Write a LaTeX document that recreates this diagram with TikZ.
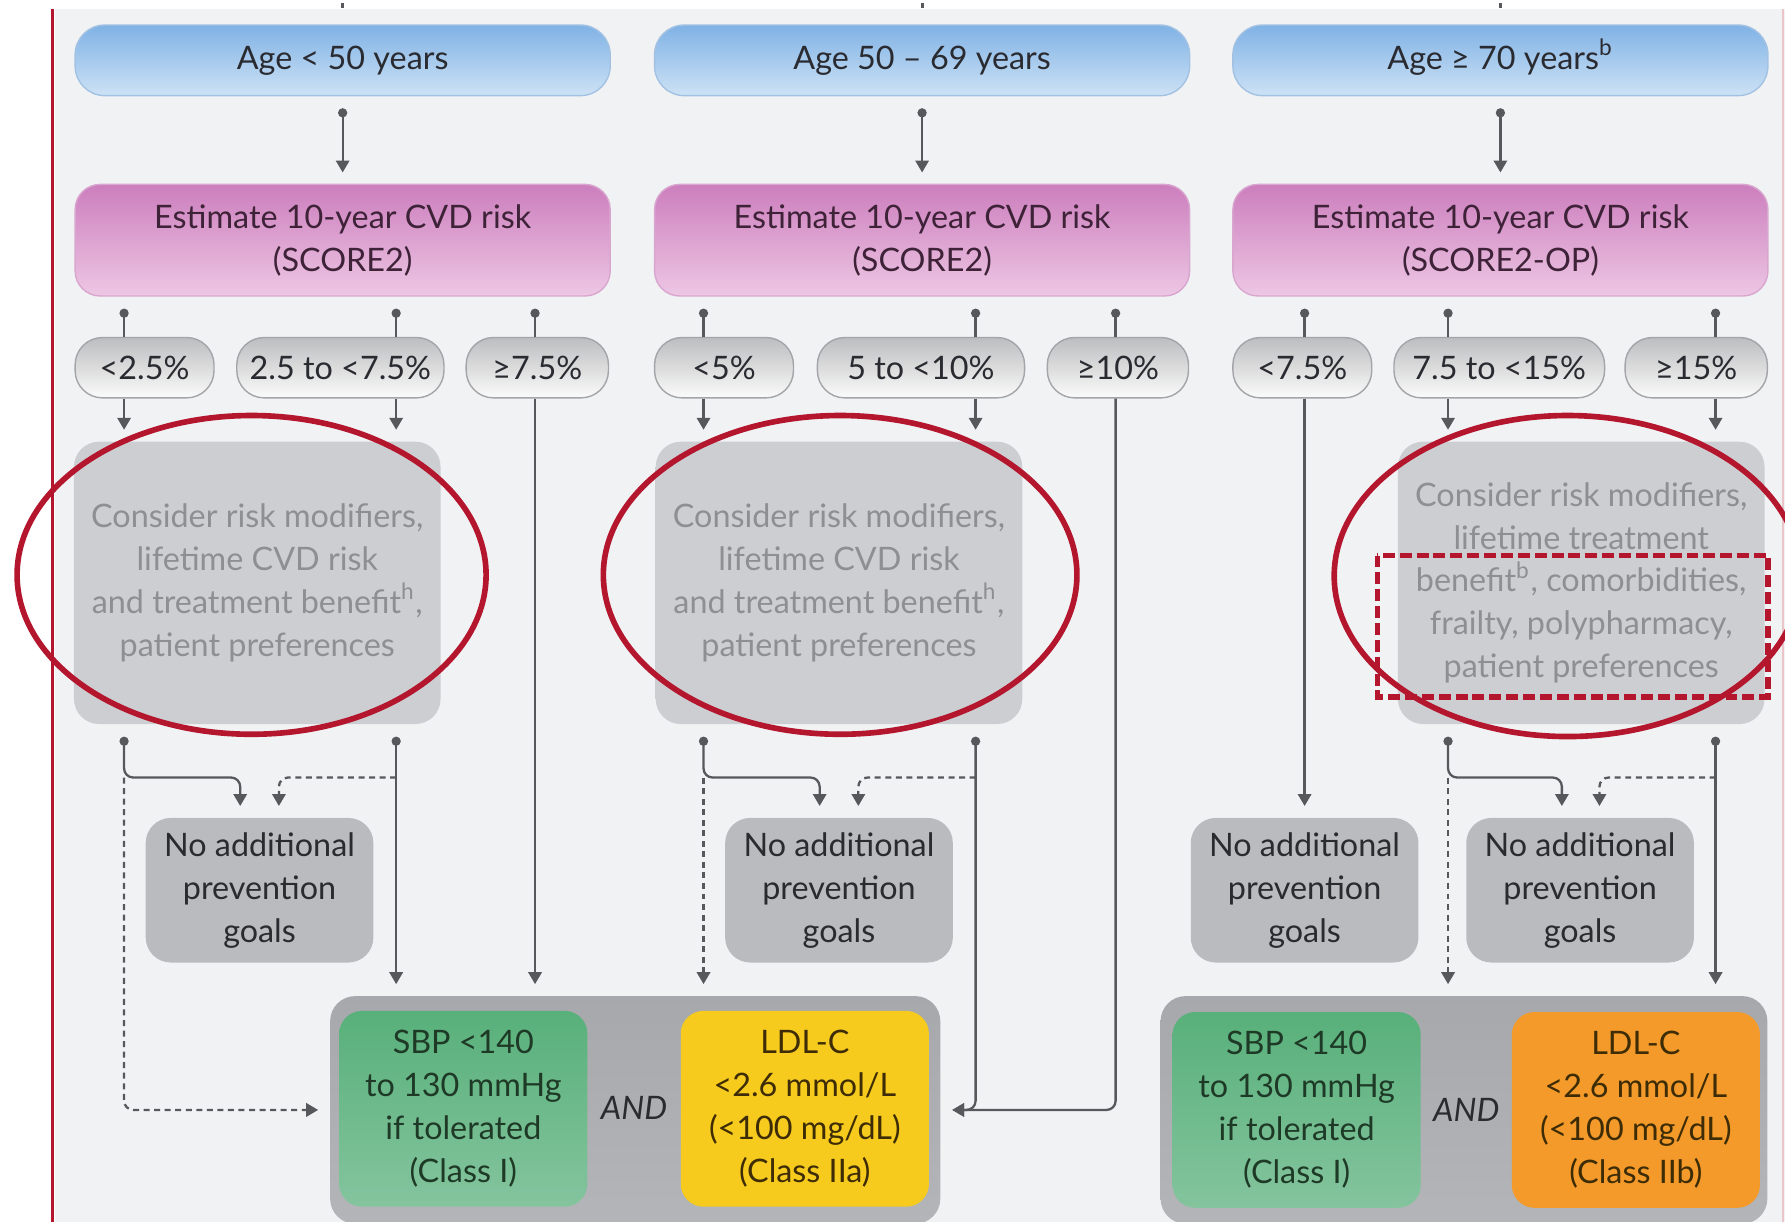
\documentclass[tikz,border=0pt]{standalone}
\usepackage{fontspec}
\setmainfont{Lato}
\usetikzlibrary{arrows.meta}

\definecolor{bgcol}{HTML}{F1F2F4}
\definecolor{agetop}{HTML}{80B2E5}
\definecolor{agebot}{HTML}{CDE2F5}
\definecolor{ageline}{HTML}{A3C2E3}
\definecolor{esttop}{HTML}{CC7EBD}
\definecolor{estbot}{HTML}{EDC7E4}
\definecolor{estline}{HTML}{D9A6CF}
\definecolor{esttext}{HTML}{3E2238}
\definecolor{pilltop}{HTML}{BCBDBF}
\definecolor{pillbot}{HTML}{FBFBFB}
\definecolor{pillline}{HTML}{A4A5A8}
\definecolor{consin}{HTML}{CDCED2}
\definecolor{consmid}{HTML}{C0C1C5}
\definecolor{consout}{HTML}{9FA1A5}
\definecolor{constext}{HTML}{8E8F93}
\definecolor{noadd}{HTML}{B9BBBF}
\definecolor{grptop}{HTML}{A6A8AC}
\definecolor{grpbot}{HTML}{B3B5B9}
\definecolor{sbptop}{HTML}{58B07A}
\definecolor{sbpbot}{HTML}{84C49E}
\definecolor{sbptext}{HTML}{1E3A27}
\definecolor{ldlyel}{HTML}{F6CB1E}
\definecolor{ldlorange}{HTML}{F39A2B}
\definecolor{ldltext}{HTML}{3D2C05}
\definecolor{linecol}{HTML}{57585C}
\definecolor{markred}{HTML}{B3162D}
\definecolor{txt}{HTML}{2A2B31}

\newdimen\px
\px=0.11384mm

\pgfdeclareradialshading{consshade}{\pgfpoint{0bp}{0bp}}{color(0bp)=(consin); color(40bp)=(consin); color(54bp)=(consmid); color(71bp)=(consout)}

\newcommand{\supb}[1]{\smash{\textsuperscript{#1}}}

\tikzset{
  link/.style={draw=linecol, line width=0.65pt},
  arr/.style={link, -{Triangle[width=3.8pt,length=3.4pt]}, shorten >=3.2pt},
  dotarr/.style={link, {Circle[length=2.6pt]}-{Triangle[width=3.8pt,length=3.4pt]}, shorten <=3.4pt, shorten >=3.2pt},
  dotline/.style={link, {Circle[length=2.6pt]}-, shorten <=3.4pt},
  dashlink/.style={dash pattern=on 1.7pt off 1.3pt},
  agebox/.style={rounded corners=26\px, minimum width=470\px, minimum height=62\px,
    top color=agetop, bottom color=agebot, draw=ageline, line width=0.4pt, text=txt},
  estbox/.style={rounded corners=22\px, minimum width=470\px, minimum height=98\px,
    top color=esttop, bottom color=estbot, draw=estline, line width=0.4pt, text=esttext, align=center},
  pill/.style={rounded corners=24\px, minimum height=53\px,
    top color=pilltop, bottom color=pillbot, draw=pillline, line width=0.4pt, text=txt},
  consbox/.style={rounded corners=22\px, minimum width=322\px, minimum height=248\px,
    shading=consshade, text=constext, align=center},
  noaddbox/.style={rounded corners=22\px, minimum width=200\px, minimum height=127\px,
    fill=noadd, text=txt, align=center},
  grpbox/.style={rounded corners=22\px, minimum height=200\px, top color=grptop, bottom color=grpbot},
  goalbox/.style={rounded corners=20\px, minimum width=218\px, minimum height=172\px, align=center},
  sbpbox/.style={goalbox, top color=sbptop, bottom color=sbpbot, text=sbptext},
  ldlbox/.style={goalbox, fill=#1, text=ldltext}
}

\begin{document}
\begin{tikzpicture}[x=0.11384mm, y=-0.11384mm, font=\fontsize{9.2}{12.2}\selectfont]
  \useasboundingbox (0,0) rectangle (1568,1073);
  \fill[white] (0,0) rectangle (1568,1073);
  \fill[bgcol] (48,8) rectangle (1568,1073);
  \draw[markred, line width=0.8pt] (46,8) -- (46,1073);
  \draw[markred!25, line width=0.5pt] (1566,8) -- (1566,1073);
  \coordinate (j) at (0,683);

  \foreach \n/\cx/\agetxt/\scoretxt in {1/301/{Age < 50 years}/{SCORE2},
      2/810/{Age 50 – 69 years}/{SCORE2},
      3/1318/{Age ≥ 70 years\supb{b}}/{SCORE2-OP}}{
      \node[agebox] (age\n) at (\cx,53) {\agetxt};
      \node[estbox] (est\n) at (\cx,211) {Estimate 10-year CVD risk\\(\scoretxt)};
      \draw[dotarr] (age\n.south) -- (est\n.north);
      \draw[link, line width=0.9pt] (\cx,3) -- (\cx,7);
    }

  \foreach \n/\cx/\w/\txt in {11/127/122/{<2.5\%}, 12/299/182/{2.5 to <7.5\%}, 13/472/125/{≥7.5\%},
      21/636/122/{<5\%}, 22/809/182/{5 to <10\%}, 23/982/124/{≥10\%},
      31/1144/122/{<7.5\%}, 32/1317/185/{7.5 to <15\%}, 33/1490/125/{≥15\%}}{
      \node[pill, minimum width=\w\px] (p\n) at (\cx,323) {\txt};
    }

  \node[consbox] (cons1) at (226,512) {Consider risk modifiers,\\lifetime CVD risk\\and treatment benefit\supb{h},\\patient preferences};
  \node[consbox] (cons2) at (737,512) {Consider risk modifiers,\\lifetime CVD risk\\and treatment benefit\supb{h},\\patient preferences};
  \node[consbox] (cons3) at (1389,512) {Consider risk modifiers,\\lifetime treatment\\benefit\supb{b}, comorbidities,\\frailty, polypharmacy,\\patient preferences};

  \foreach \n/\cx in {1/228, 2/737, 31/1146, 32/1388}{
      \node[noaddbox] (noadd\n) at (\cx,782) {No additional\\prevention\\goals};
    }

  \node[grpbox, minimum width=536\px] (grp1) at (558,975) {};
  \node[grpbox, minimum width=533\px] (grp2) at (1286,975) {};
  \node[sbpbox] (sbp1) at (407,974) {SBP <140\\to 130 mmHg\\if tolerated\\(Class I)};
  \node[text=txt] (and1) at (557,973) {\textit{AND}};
  \node[ldlbox=ldlyel] (ldl1) at (707,974) {LDL-C\\<2.6 mmol/L\\(<100 mg/dL)\\(Class IIa)};
  \node[sbpbox] (sbp2) at (1139,975) {SBP <140\\to 130 mmHg\\if tolerated\\(Class I)};
  \node[text=txt] (and2) at (1288,975) {\textit{AND}};
  \node[ldlbox=ldlorange] (ldl2) at (1437,975) {LDL-C\\<2.6 mmol/L\\(<100 mg/dL)\\(Class IIb)};

  \foreach \n/\xa/\xb/\xc in {1/109/348/470, 2/618/857/980, 3/1146/1272/1507}{
      \coordinate (a\n) at (\xa,0);
      \coordinate (b\n) at (\xb,0);
      \coordinate (c\n) at (\xc,0);
      \draw[dotline] (est\n.south -| a\n) -- (p\n1.north -| a\n);
      \draw[dotline] (est\n.south -| b\n) -- (p\n2.north -| b\n);
      \draw[dotline] (est\n.south -| c\n) -- (p\n3.north -| c\n);
    }

  \draw[arr] (p11.south -| a1) -- (cons1.north -| a1);
  \draw[arr] (p12.south -| b1) -- (cons1.north -| b1);
  \draw[arr] (p13.south -| c1) -- (grp1.north -| c1);
  \draw[dotarr, rounded corners=8\px] (cons1.south -| a1) -- (a1 |- j) -| ([xshift=-17\px]noadd1.north);
  \draw[arr, dashlink, rounded corners=8\px] (a1 |- j) |- (grp1.west);
  \draw[dotarr] (cons1.south -| b1) -- (grp1.north -| b1);
  \draw[arr, dashlink, rounded corners=8\px] (b1 |- j) -| ([xshift=17\px]noadd1.north);

  \draw[arr] (p21.south -| a2) -- (cons2.north -| a2);
  \draw[arr] (p22.south -| b2) -- (cons2.north -| b2);
  \draw[arr, rounded corners=8\px] (p23.south -| c2) |- (grp1.east);
  \draw[dotarr, rounded corners=8\px] (cons2.south -| a2) -- (a2 |- j) -| ([xshift=-17\px]noadd2.north);
  \draw[arr, dashlink] (a2 |- j) -- (grp1.north -| a2);
  \draw[dotarr, rounded corners=8\px] (cons2.south -| b2) |- (grp1.east);
  \draw[arr, dashlink, rounded corners=8\px] (b2 |- j) -| ([xshift=17\px]noadd2.north);

  \draw[arr] (p31.south -| a3) -- (noadd31.north -| a3);
  \draw[arr] (p32.south -| b3) -- (cons3.north -| b3);
  \draw[arr] (p33.south -| c3) -- (cons3.north -| c3);
  \draw[dotarr, rounded corners=8\px] (cons3.south -| b3) -- (b3 |- j) -| ([xshift=-16\px]noadd32.north);
  \draw[arr, dashlink] (b3 |- j) -- (grp2.north -| b3);
  \draw[dotarr] (cons3.south -| c3) -- (grp2.north -| c3);
  \draw[arr, dashlink, rounded corners=8\px] (c3 |- j) -| ([xshift=17\px]noadd32.north);

  \draw[markred, line width=1.6pt] (221,505) ellipse [x radius=206, y radius=140];
  \draw[markred, line width=1.6pt] (738,505) ellipse [x radius=208, y radius=140];
  \draw[markred, line width=1.6pt] (1377,506) ellipse [x radius=205, y radius=141];
  \draw[markred, line width=1.6pt, dash pattern=on 3.4pt off 1.4pt] (1210,488) rectangle (1553,612);
\end{tikzpicture}
\end{document}
